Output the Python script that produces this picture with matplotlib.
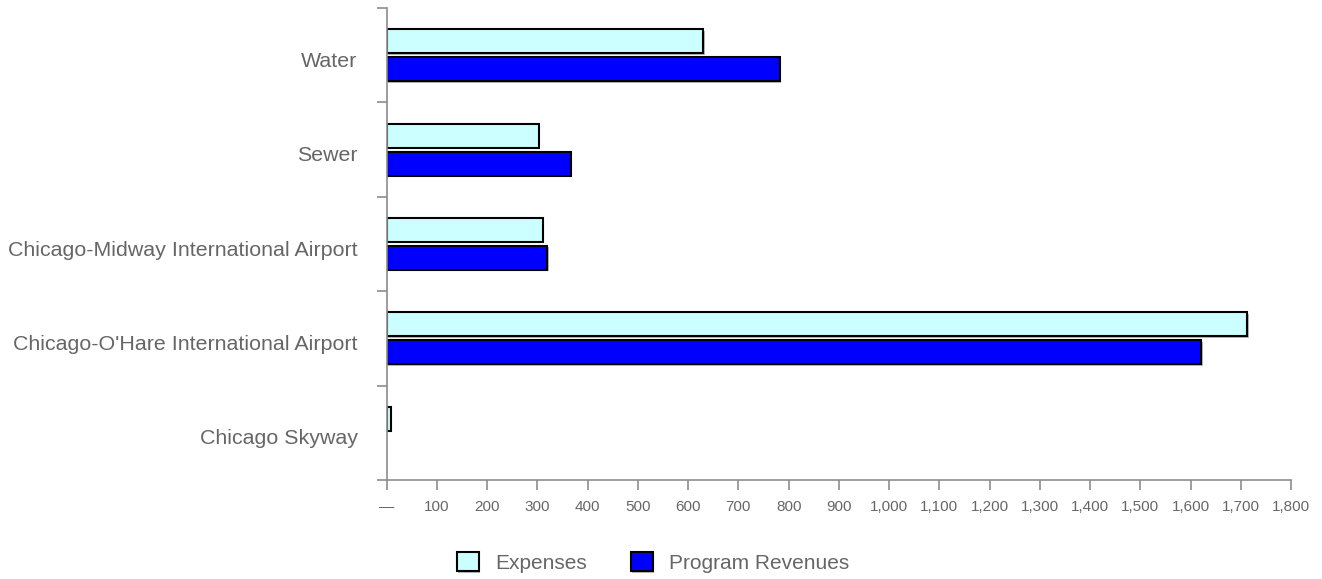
import numpy as np
import matplotlib.pyplot as plt
import matplotlib.patheffects as pe
import matplotlib.transforms as mtransforms
from matplotlib.ticker import FuncFormatter

plt.rcParams['font.family'] = ['Liberation Sans', 'DejaVu Sans']

# values in millions of dollars
categories = ['Water', 'Sewer', 'Chicago-Midway International Airport',
              "Chicago-O'Hare International Airport", 'Chicago Skyway']
expenses = [630, 303, 311, 1713, 8]
revenues = [783, 367, 320, 1621, 0]

text_col = '#666666'
axis_col = '#8c8c8c'

fig = plt.figure(figsize=(13.22, 5.79), dpi=100)
ax = fig.add_axes([0.2925, 0.171, 0.9766 - 0.2925, 0.986 - 0.171])

y = np.arange(len(categories))
h = 0.254
off = 0.148
shadow = [pe.SimplePatchShadow(offset=(1, -1), shadow_rgbFace='#999999', alpha=0.7), pe.Normal()]
b1 = ax.barh(y - off, expenses, height=h, color='#CCFFFF', edgecolor='black',
             linewidth=1.5, label='Expenses', path_effects=shadow)
b2 = ax.barh(y + off, revenues, height=h, color='#0000FF', edgecolor='black',
             linewidth=1.5, label='Program Revenues', path_effects=shadow)
# no outline for empty bars
for bars, vals in [(b1, expenses), (b2, revenues)]:
    for p, v in zip(bars.patches, vals):
        if v == 0:
            p.set_visible(False)

ax.set_xlim(0, 1800)
ax.set_ylim(len(categories) - 0.5, -0.5)

for s in ['top', 'right']:
    ax.spines[s].set_visible(False)
for s in ['left', 'bottom']:
    ax.spines[s].set_color(axis_col)
    ax.spines[s].set_linewidth(1.2)

ax.set_yticks(y)
ax.set_yticklabels(categories)
ax.set_yticks(np.arange(-0.5, len(categories)), minor=True)
ax.tick_params(axis='y', which='major', length=0, pad=21, labelsize=15.4, labelcolor=text_col)
ax.tick_params(axis='y', which='minor', length=7.2, width=1.2, color=axis_col)
shift = mtransforms.ScaledTranslation(0, -3 / 72, fig.dpi_scale_trans)
for lbl in ax.get_yticklabels():
    lbl.set_transform(lbl.get_transform() + shift)

ax.set_xticks(np.arange(0, 1801, 100))
ax.xaxis.set_major_formatter(FuncFormatter(lambda v, p: '\u2014' if v == 0 else f'{int(v):,}'))
ax.tick_params(axis='x', length=7.2, width=1.2, color=axis_col, pad=7,
               labelsize=11, labelcolor=text_col)

fig.legend(loc='center', bbox_to_anchor=(0.494, 0.029), ncol=2, frameon=False,
           fontsize=15, labelcolor=text_col, handlelength=1.05, handleheight=1.05,
           handletextpad=0.8, columnspacing=2.1, borderpad=0)

fig.savefig('out.png', dpi=100)
